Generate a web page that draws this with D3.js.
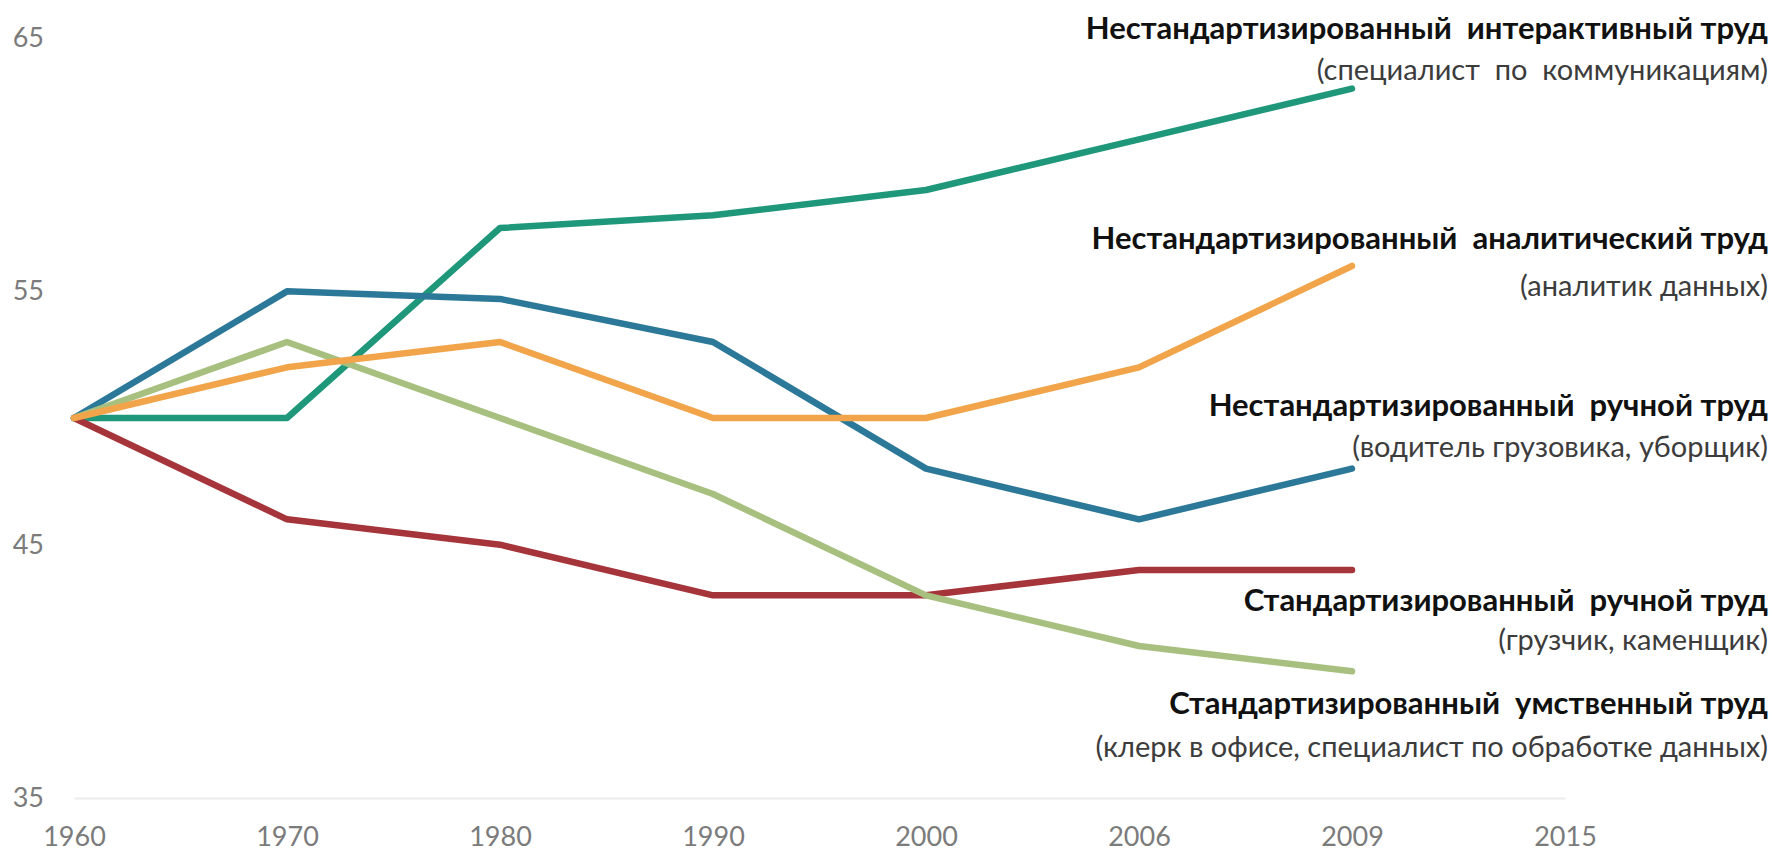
<!DOCTYPE html>
<html>
<head>
<meta charset="utf-8">
<script src="https://cdn.jsdelivr.net/npm/d3@7"></script>
<style>
  body { margin: 0; background: #fff; }
  svg { display: block; }
  .axis text { font-family: Lato, "Noto Sans", sans-serif; fill: #7b7b7b; }
  .note-title { font-family: Lato, "Noto Sans", sans-serif; font-weight: bold; fill: #111; }
  .note-sub { font-family: Lato, "Noto Sans", sans-serif; fill: #3c3c3c; }
</style>
</head>
<body>
<div id="chart"></div>
<script>
// categories on the x axis (category axis, 2015 has no data)
var years = ["1960", "1970", "1980", "1990", "2000", "2006", "2009", "2015"];
var yTicks = [35, 45, 55, 65];

// series values
var interactive = [50, 50, 57.5, 58, 59, 61, 63];
var analytic    = [50, 52, 53, 50, 50, 52, 56];
var nonRoutineManual = [50, 55, 54.7, 53, 48, 46, 48];
var routineManual    = [50, 46, 45, 43, 43, 44, 44];
var routineCognitive = [50, 53, 50, 47, 43, 41, 40];

var titles = [
  "Нестандартизированный  интерактивный труд",
  "Нестандартизированный  аналитический труд",
  "Нестандартизированный  ручной труд",
  "Стандартизированный  ручной труд",
  "Стандартизированный  умственный труд"
];
var subtitles = [
  "(специалист  по  коммуникациям)",
  "(аналитик данных)",
  "(водитель грузовика, уборщик)",
  "(грузчик, каменщик)",
  "(клерк в офисе, специалист по обработке данных)"
];

var width = 1777, height = 851;

var svg = d3.select("#chart").append("svg")
  .attr("width", width)
  .attr("height", height);

var x = d3.scalePoint()
  .domain(years)
  .range([74, 1565]);

var y = d3.scaleLinear()
  .domain([35, 65])
  .range([798, 38]);

// x axis with faint baseline
var xAxis = d3.axisBottom(x)
  .tickSize(0)
  .tickPadding(29);

var gx = svg.append("g")
  .attr("class", "axis")
  .attr("transform", `translate(0, ${y(35)})`)
  .call(xAxis);
gx.select(".domain").attr("stroke", "#ececec").attr("stroke-width", 2);
gx.selectAll("text").style("font-size", "27px");

// y axis, labels only
var yAxis = d3.axisLeft(y)
  .tickValues(yTicks)
  .tickSize(0)
  .tickPadding(0);

var gy = svg.append("g")
  .attr("class", "axis")
  .attr("transform", "translate(44, 0)")
  .call(yAxis);
gy.select(".domain").remove();
gy.selectAll("text").style("font-size", "27px");

// lines - draw order roughly as in the picture
var series = [
  {values: interactive, color: "#1f977a"},
  {values: nonRoutineManual, color: "#2c7898"},
  {values: routineManual, color: "#a5353a"},
  {values: routineCognitive, color: "#a8c07f"},
  {values: analytic, color: "#f1a449"}
];

var line = d3.line()
  .x((d, i) => x(years[i]))
  .y(d => y(d));

svg.append("g")
  .attr("id", "lines")
  .selectAll("path")
  .data(series)
  .enter()
  .append("path")
  .attr("d", d => line(d.values))
  .attr("fill", "none")
  .attr("stroke", d => d.color)
  .attr("stroke-width", 6.5)
  .attr("stroke-linejoin", "round")
  .attr("stroke-linecap", "round");

// annotations on the right
var titleY = [28, 238, 405, 600, 703];
var subY = [70, 286, 447, 640, 747];
var textRight = 1768;

var notes = svg.append("g").attr("id", "notes");
notes.selectAll("text.note-title")
  .data(titles)
  .enter()
  .append("text")
  .attr("class", "note-title")
  .attr("x", textRight)
  .attr("y", (d, i) => titleY[i])
  .attr("dy", "0.35em")
  .attr("text-anchor", "end")
  .style("font-size", "31px")
  .style("white-space", "pre")
  .text(d => d);

notes.selectAll("text.note-sub")
  .data(subtitles)
  .enter()
  .append("text")
  .attr("class", "note-sub")
  .attr("x", textRight)
  .attr("y", (d, i) => subY[i])
  .attr("dy", "0.35em")
  .attr("text-anchor", "end")
  .style("font-size", "29px")
  .style("white-space", "pre")
  .text(d => d);
</script>
</body>
</html>
